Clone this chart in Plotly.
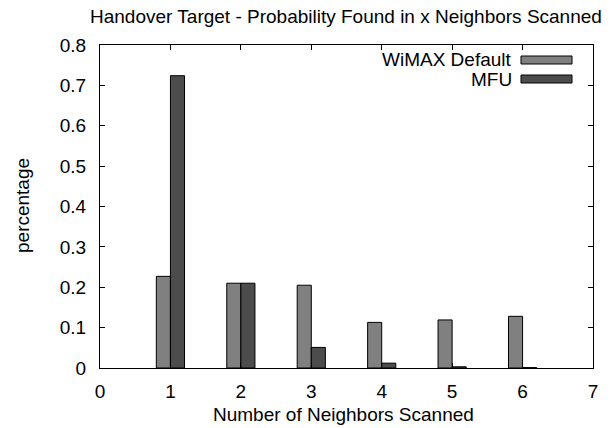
import plotly.graph_objects as go

neighbors = [1, 2, 3, 4, 5, 6]
wimax_default = [0.227, 0.210, 0.205, 0.113, 0.119, 0.128]
mfu = [0.724, 0.210, 0.051, 0.012, 0.003, 0.001]
series_names = ["WiMAX Default", "MFU"]
colors = ["#808080", "#4c4c4c"]
x_ticks = [0, 1, 2, 3, 4, 5, 6, 7]
y_ticks = [0, 0.1, 0.2, 0.3, 0.4, 0.5, 0.6, 0.7, 0.8]
y_tick_labels = ["0", "0.1", "0.2", "0.3", "0.4", "0.5", "0.6", "0.7", "0.8"]

# page body has an 8px default margin; figure is sized to fit the window
OFF = 8
W, H = 616 - OFF, 428 - OFF
L, R, T, B = 100 - OFF, 23, 45 - OFF, 60
pw, ph = W - L - R, H - T - B

def px(x):  # window pixel -> paper x
    return (x - OFF - L) / pw

def py(y):  # window pixel -> paper y
    return (H - B - (y - OFF)) / ph

font = "Liberation Sans, Arial, sans-serif"
FS = 19

fig = go.Figure()
for name, vals, c in zip(series_names, [wimax_default, mfu], colors):
    fig.add_trace(go.Bar(
        x=neighbors, y=vals, name=name,
        marker=dict(color=c, line=dict(color="black", width=1)),
        showlegend=False,
    ))

# manual legend (text to the left of swatch, gnuplot style)
legend_y = [60, 79]
for name, c, yy in zip(series_names, colors, legend_y):
    fig.add_annotation(x=px(514), y=py(yy), xref="paper", yref="paper",
                       text=name, showarrow=False, xanchor="right", yanchor="middle",
                       font=dict(family=font, size=FS, color="black"))
    fig.add_shape(type="rect", xref="paper", yref="paper",
                  x0=px(521), x1=px(572), y0=py(yy - 4), y1=py(yy + 4),
                  fillcolor=c, line=dict(color="black", width=1))

# axis titles and chart title
fig.add_annotation(x=px(343), y=py(414), xref="paper", yref="paper",
                   text="Number of Neighbors Scanned", showarrow=False,
                   xanchor="center", yanchor="middle",
                   font=dict(family=font, size=FS, color="black"))
fig.add_annotation(x=px(22), y=py(206), xref="paper", yref="paper",
                   text="percentage", showarrow=False, textangle=-90,
                   xanchor="center", yanchor="middle",
                   font=dict(family=font, size=FS, color="black"))
fig.add_annotation(x=px(346), y=py(16), xref="paper", yref="paper",
                   text="Handover Target - Probability Found in x Neighbors Scanned",
                   showarrow=False, xanchor="center", yanchor="middle",
                   font=dict(family=font, size=FS, color="black"))

fig.update_layout(
    width=W, height=H,
    margin=dict(l=L, r=R, t=T, b=B, autoexpand=False),
    paper_bgcolor="white", plot_bgcolor="white",
    barmode="group", bargap=0.6, bargroupgap=0,
    font=dict(family=font, size=FS, color="black"),
    xaxis=dict(range=[0, 7], tickmode="array", tickvals=x_ticks,
               ticktext=[str(v) for v in x_ticks],
               ticks="inside", ticklen=5, tickcolor="black", mirror="ticks",
               showline=True, linecolor="black", linewidth=1, showgrid=False, zeroline=False,
               automargin=False, ticklabelstandoff=6,
               tickfont=dict(family=font, size=FS)),
    yaxis=dict(range=[0, 0.8], tickmode="array", tickvals=y_ticks, ticktext=y_tick_labels,
               ticks="inside", ticklen=5, tickcolor="black", mirror="ticks",
               showline=True, linecolor="black", linewidth=1, showgrid=False, zeroline=False,
               automargin=False, ticklabelstandoff=9,
               tickfont=dict(family=font, size=FS)),
)

fig.write_html("out.html")
